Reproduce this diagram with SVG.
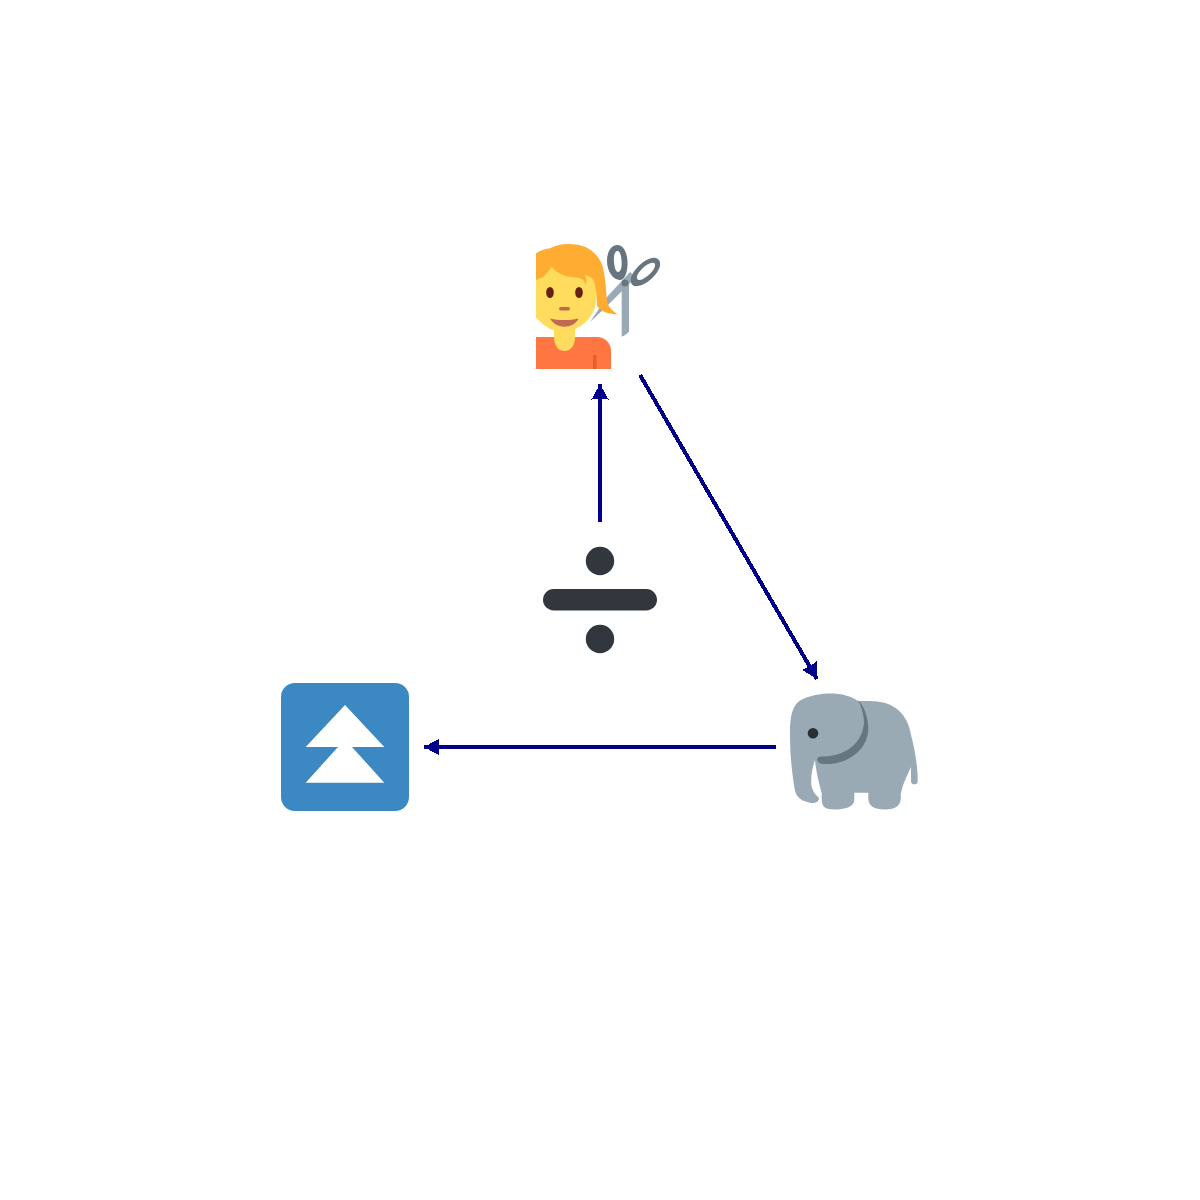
<svg xmlns="http://www.w3.org/2000/svg" width="1200" height="1200" viewBox="0 0 1200 1200">
<style>
.edge{fill:none;stroke:#00008b;stroke-width:4;shape-rendering:crispEdges;marker-end:url(#arrow)}
.head{fill:#00008b;shape-rendering:crispEdges}
</style>
<defs>
<marker id="arrow" markerUnits="userSpaceOnUse" markerWidth="18" markerHeight="18" refX="16" refY="9" orient="auto" viewBox="0 0 18 18">
<path class="head" d="M16,9 L0.5,0.5 L1.500,9 L0.5,17.500 Z"/>
</marker>
<clipPath id="personClip"><rect x="536" y="241" width="128" height="128"/></clipPath>
</defs>
<rect width="1200" height="1200" fill="#fff"/>
<g id="person" clip-path="url(#personClip)">
<path fill="#99aab5" d="M621.700,283 H629 V331.700 Q626,335 621.700,336.700 Z"/>
<path fill="#99aab5" d="M590,322 L607,297 L630,272 L636,277 L623,290 L604,309 Z"/>
<path fill="#66757f" fill-rule="evenodd" d="M617.500,245 C623,245 627,252 627.500,261 C628,271 625,280 620,280 C613,280 607,271 607,261 C607,252 611,245 617.500,245 Z M617.500,251 C614.500,251 613.500,256 614,262 C614.500,268 616,272.500 618.500,272 C621.500,271.500 622,265 621.500,260 C621,255 620,251 617.500,251 Z"/>
<path fill="#66757f" fill-rule="evenodd" d="M652,258 C658,257 661,261 660,266 C658,274 648,284 638,286 C632,287 630,283 631,278 C633,270 643,260 652,258 Z M651,263 C646,264 639,271 637,276 C636,280 639,281 643,279 C648,276 654,271 655,266 C655.500,263 654,262 651,263 Z"/>
<circle cx="625" cy="283" r="3.500" fill="#66757f"/>
<path fill="#ffdc5d" d="M554,322 H575 V341 A10.500,10.500 0 0 1 554,341 Z"/>
<path fill="#ff7643" d="M536,337 H554 C554,345 558,351 564.500,351 C571,351 575,345 575,337 H597 A14,14 0 0 1 611,351 V369 H536 Z"/>
<path fill="#e95f28" d="M593,355 H596.500 V369 H593 Z"/>
<ellipse cx="563" cy="295" rx="34" ry="36.500" fill="#ffdc5d"/>
<path fill="#ffac33" d="M536,253.300 C541,250 546,249 550,248.300 C556,245 562,244 568.300,244 C580,244 588,247 593,252 C600,258 603,265 604,273 C606,283 606,293 607,301.700 C609,308 613,311 617.300,314 C613,314.500 610,314 608.300,313.300 C604,312 600,310 597,306 C597,300 597,296 596,290 C595,284 594,280 591.700,278.300 C589,276 587,275 585,275 C586,279 587,282 586,285 C584,281 583,279 580,278.300 C574,277 568,277 563.300,275 C558,273 554,270 551.700,266.700 C549,271 546,274 543.300,276.700 C541,278 538,279 536,280 Z"/>
<ellipse cx="550" cy="292.500" rx="3.800" ry="5.500" fill="#662113"/>
<ellipse cx="579" cy="292.500" rx="3.800" ry="5.500" fill="#662113"/>
<rect x="559" y="307" width="11" height="3.500" rx="1.750" fill="#c1694f"/>
<path fill="#c1694f" d="M550,318.500 C558,320.500 570,320.500 578.500,318.500 C576,324 570,326.700 564.500,326.700 C559,326.700 553,324 550,318.500 Z"/>
</g>
<g id="divide" fill="#31373d">
<circle cx="600" cy="561" r="14.200"/>
<rect x="543" y="589" width="114" height="21.500" rx="10.700"/>
<circle cx="600" cy="639" r="14.200"/>
</g>
<g id="elephant">
<path fill="#99aab5" d="M790,733 C790,712 794,703 803,699 C812,695 822,693.500 830,693.500 C842,693.500 851,696 858,701 C866,701 870,701 877,701.500 C895,703 908,715 911,735 C915,750 918,768 917.700,781 A3.300,3.300 0 0 1 911,781 L911,767 C906,778 902,786 900.700,795 C902,806 895,809.500 885,809.500 C874,809.500 868.300,806 868.300,798 L868.300,792.700 L854.300,792.700 L854.300,800 C854,807 845,809.500 834,809.500 C824,809.500 821.700,806 821.700,798 L821.700,793 C818,780 816,770 815,760 C812,768 810.500,778 811.500,786 C813,792 816,795 819,798 C819,802 815,803.500 811,803 C803,801.500 797,798 795.500,792 C794.500,789 794.300,787 794,785 C791,765 790,750 790,733 Z"/>
<path fill="#66757f" d="M858,700 C866,708 869,722 868,732 C866,752 845,765 825,764 C816,764.500 815,757 821,756.500 C842,757 862,746 864,723 C864,714 861,706 858,700 Z"/>
<circle cx="813" cy="733.300" r="5.300" fill="#292f33"/>
</g>
<g id="upbutton">
<rect x="281" y="683" width="128" height="128" rx="14" fill="#3b88c3"/>
<path fill="#fff" d="M345,705 L384.300,747 L352,747 L384.300,782.700 H305.700 L338,747 L305.700,747 Z"/>
</g>
<g id="connectors">
<path class="edge" d="M600,522 L600,384"/>
<path class="edge" d="M640,375 L817,679"/>
<path class="edge" d="M776,747 L424,747"/>
</g>
</svg>
